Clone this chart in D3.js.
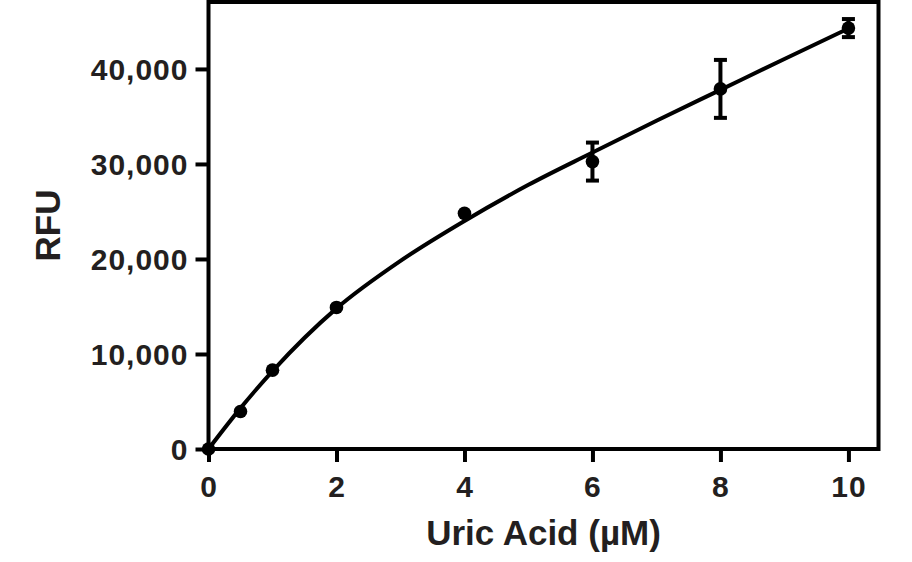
<!DOCTYPE html>
<html>
<head>
<meta charset="utf-8">
<script src="https://cdn.jsdelivr.net/npm/d3@7"></script>
<style>
  html, body { margin: 0; padding: 0; background: #fff; }
  svg { display: block; }
  text { font-family: "Liberation Sans", Arial, sans-serif; font-weight: bold; fill: #231f20; }
</style>
</head>
<body>
<svg id="chart" width="912" height="562"></svg>
<script>
// ---- data ----
const pointX = [0, 0.5, 1, 2, 4, 6, 8, 10];
const pointY = [0, 3950, 8300, 14900, 24800, 30250, 37900, 44300];
const pointErr = [0, 0, 0, 0, 0, 2000, 3050, 950];

const curveX = [0, 0.5, 1, 2, 3, 4, 5, 6, 7, 8, 9, 10];
const curveY = [0, 4300, 8200, 14800, 19800, 24000, 27800, 31200, 34550, 37800, 41050, 44250];

const xTicks = [0, 2, 4, 6, 8, 10];
const yTicks = [0, 10000, 20000, 30000, 40000];
const xTitle = "Uric Acid (µM)";
const yTitle = "RFU";

// ---- layout ----
const svg = d3.select("#chart");
const mLeft = 208.5, mRight = 878.5, mTop = 2, mBottom = 449;

const x = d3.scaleLinear().domain([0, 10.47]).range([mLeft, mRight]);
const y = d3.scaleLinear().domain([0, 47150]).range([mBottom, 1]);

// frame
svg.append("rect")
  .attr("x", mLeft).attr("y", mTop)
  .attr("width", mRight - mLeft).attr("height", mBottom - mTop)
  .attr("fill", "none").attr("stroke", "#000").attr("stroke-width", 4);

// axes
const xAxis = d3.axisBottom(x).tickValues(xTicks).tickSize(13).tickPadding(14)
  .tickFormat(d3.format("d"));
const gx = svg.append("g").attr("transform", `translate(0,${mBottom})`).call(xAxis);
gx.select(".domain").remove();
gx.selectAll(".tick line").attr("stroke", "#000").attr("stroke-width", 4);
gx.selectAll(".tick text").style("font-size", "30px").style("letter-spacing", "1px")
  .attr("fill", "#231f20").attr("dy", "0.7em");

const yAxis = d3.axisLeft(y).tickValues(yTicks).tickSize(13).tickPadding(7)
  .tickFormat(d3.format(","));
const gy = svg.append("g").attr("transform", `translate(${mLeft},0)`).call(yAxis);
gy.select(".domain").remove();
gy.selectAll(".tick line").attr("stroke", "#000").attr("stroke-width", 4);
gy.selectAll(".tick text").style("font-size", "30px").style("letter-spacing", "1px")
  .attr("fill", "#231f20").attr("dy", "0.36em");

// titles
svg.append("text")
  .attr("x", (mLeft + mRight) / 2).attr("y", 545)
  .attr("text-anchor", "middle")
  .style("font-size", "35px")
  .text(xTitle);

svg.append("text")
  .attr("transform", `translate(60,${(mTop + mBottom) / 2}) rotate(-90)`)
  .attr("text-anchor", "middle")
  .style("font-size", "35px")
  .text(yTitle);

// fitted curve
const curveData = curveX.map((d, i) => [d, curveY[i]]);
svg.append("path")
  .datum(curveData)
  .attr("fill", "none").attr("stroke", "#000").attr("stroke-width", 4)
  .attr("stroke-linejoin", "round")
  .attr("d", d3.line().x(d => x(d[0])).y(d => y(d[1])).curve(d3.curveMonotoneX));

// error bars
const pts = pointX.map((d, i) => ({ x: d, y: pointY[i], e: pointErr[i] }));
const eb = svg.append("g").selectAll("g").data(pts.filter(d => d.e > 0)).join("g");
eb.append("line")
  .attr("x1", d => x(d.x)).attr("x2", d => x(d.x))
  .attr("y1", d => y(d.y - d.e)).attr("y2", d => y(d.y + d.e))
  .attr("stroke", "#000").attr("stroke-width", 4);
eb.append("line")
  .attr("x1", d => x(d.x) - 6.5).attr("x2", d => x(d.x) + 6.5)
  .attr("y1", d => y(d.y + d.e)).attr("y2", d => y(d.y + d.e))
  .attr("stroke", "#000").attr("stroke-width", 4);
eb.append("line")
  .attr("x1", d => x(d.x) - 6.5).attr("x2", d => x(d.x) + 6.5)
  .attr("y1", d => y(d.y - d.e)).attr("y2", d => y(d.y - d.e))
  .attr("stroke", "#000").attr("stroke-width", 4);

// points
svg.append("g").selectAll("circle").data(pts).join("circle")
  .attr("cx", d => x(d.x)).attr("cy", d => y(d.y)).attr("r", 6.8)
  .attr("fill", "#000");
</script>
</body>
</html>
